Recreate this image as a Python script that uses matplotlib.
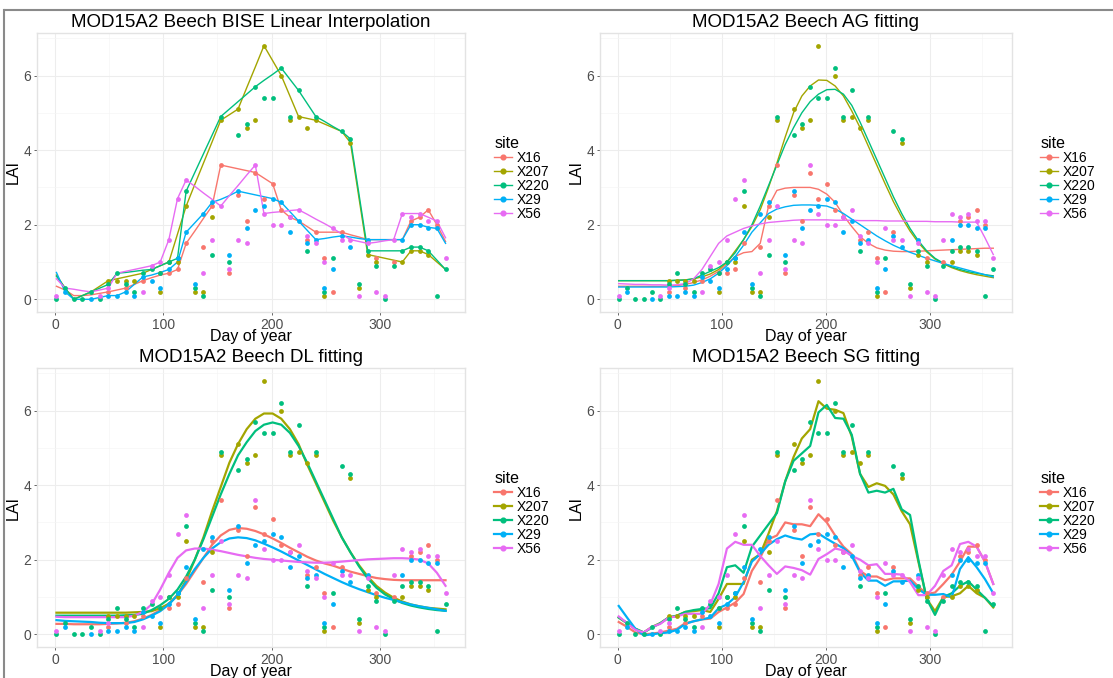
import numpy as np
import matplotlib
matplotlib.use("Agg")
import matplotlib.pyplot as plt
from matplotlib.lines import Line2D

plt.rcParams["font.family"] = ["Liberation Sans", "DejaVu Sans"]

nan = np.nan

DAYS = [1, 9, 17, 25, 33, 41, 49, 57, 65, 73, 81, 89, 97, 105, 113, 121,
        129, 137, 145, 153, 161, 169, 177, 185, 193, 201, 209, 217, 225, 233,
        241, 249, 257, 265, 273, 281, 289, 297, 305, 313, 321, 329, 337, 345,
        353, 361]

SITES = ["X16", "X207", "X220", "X29", "X56"]
SITE_COLORS = ["#F8766D", "#A3A500", "#00BF7D", "#00B0F6", "#E76BF3"]

# raw MOD15A2 LAI observations (shared by all panels)
RAW_LAI = {
    "X16": [nan, nan, nan, nan, nan, nan, 0.2, nan, 0.3, nan, 0.5, nan, 0.7, 0.7, 0.8, 1.5,
            nan, 1.4, 2.5, 3.6, 0.7, 2.8, 2.1, 3.4, 2.7, 3.1, 2.4, 2.2, nan, 1.6,
            1.8, 1.1, 0.2, 1.8, nan, nan, nan, 1.1, nan, 1.0, nan, 2.1, 2.2, 2.4, 2.0, nan],
    "X207": [nan, nan, nan, nan, nan, nan, 0.5, 0.5, 0.5, 0.5, nan, nan, 0.2, 1.0, 1.0, 2.5,
             0.2, 0.2, 2.2, 4.8, nan, 5.1, 4.6, 4.8, 6.8, nan, 6.0, 4.8, 4.9, 4.6,
             4.8, 0.1, nan, nan, 4.2, 0.3, 1.2, 1.0, nan, nan, 1.0, 1.3, 1.3, 1.2, nan, nan],
    "X220": [0.0, 0.3, 0.0, 0.0, 0.2, 0.0, 0.4, 0.7, 0.4, 0.2, 0.7, 0.8, 0.7, 1.0, 1.1, 2.9,
             0.3, 0.1, 1.2, 4.9, 1.0, 4.4, 4.7, 5.7, 5.4, 5.4, 6.2, 4.9, 5.6, 1.3,
             4.9, 0.2, 1.1, 4.5, 4.3, 0.4, 1.3, 0.9, 0.0, 0.9, 1.3, 1.4, 1.4, 1.3, 0.1, 0.8],
    "X29": [nan, 0.2, nan, nan, 0.0, nan, 0.1, 0.1, 0.2, 0.1, 0.6, 0.5, 0.3, 0.8, 1.1, 1.8,
            0.4, 2.3, 2.6, nan, 1.2, 2.9, 1.9, 2.4, 2.5, 2.7, 2.6, 1.8, 2.1, 1.5,
            1.6, 0.3, 0.8, 1.7, 1.4, nan, 1.6, nan, nan, nan, 1.6, 2.0, 2.0, 1.9, 1.9, nan],
    "X56": [0.1, nan, nan, nan, nan, 0.1, 0.3, nan, nan, nan, 0.2, 0.9, 1.0, 1.6, 2.7, 3.2,
            nan, 0.7, 1.6, 2.5, 0.8, 1.6, 1.5, 3.6, 2.3, 2.0, 2.0, 2.2, 2.4, 1.7,
            1.5, 1.0, 1.9, 1.6, 1.6, 0.1, 1.5, 0.2, 0.1, 1.6, 2.3, 2.2, 2.3, 2.1, 2.1, 1.1],
}

BISE_LAI = {
    "X16": [0.35, 0.25, 0.1, 0.1, 0.12, 0.16, 0.2, 0.25, 0.3, 0.4, 0.5, 0.58, 0.65, 0.7, 0.8, 1.5,
            1.83, 2.17, 2.5, 3.6, 3.55, 3.5, 3.45, 3.4, 3.25, 3.1, 2.4, 2.2, 2.1, 1.95,
            1.8, 1.8, 1.8, 1.8, 1.73, 1.67, 1.6, 1.6, 1.6, 1.6, 1.6, 2.1, 2.2, 2.4, 2.0, 1.55],
    "X207": [0.65, 0.3, 0.0, 0.1, 0.2, 0.35, 0.5, 0.55, 0.6, 0.65, 0.7, 0.8, 0.9, 1.0, 1.75, 2.5,
             3.08, 3.65, 4.22, 4.8, 4.95, 5.1, 5.67, 6.23, 6.8, 6.4, 6.0, 5.45, 4.9, 4.85,
             4.8, 4.7, 4.6, 4.5, 4.2, 2.7, 1.2, 1.15, 1.1, 1.05, 1.0, 1.3, 1.3, 1.2, 1.0, 0.8],
    "X220": [0.62, 0.3, 0.0, 0.1, 0.2, 0.3, 0.4, 0.7, 0.72, 0.75, 0.78, 0.8, 0.9, 1.0, 1.1, 2.9,
             3.4, 3.9, 4.4, 4.9, 5.1, 5.3, 5.5, 5.7, 5.87, 6.03, 6.2, 5.9, 5.6, 5.25,
             4.9, 4.77, 4.63, 4.5, 4.3, 2.8, 1.3, 1.3, 1.3, 1.3, 1.3, 1.4, 1.4, 1.3, 1.05, 0.8],
    "X29": [0.72, 0.2, 0.0, 0.0, 0.0, 0.05, 0.1, 0.1, 0.2, 0.4, 0.6, 0.65, 0.72, 0.8, 1.0, 1.8,
            2.05, 2.3, 2.6, 2.68, 2.78, 2.9, 2.85, 2.8, 2.75, 2.7, 2.6, 2.35, 2.1, 1.85,
            1.6, 1.63, 1.67, 1.7, 1.67, 1.63, 1.6, 1.6, 1.6, 1.6, 1.6, 2.0, 2.0, 1.93, 1.9, 1.5],
    "X56": [0.55, 0.3, 0.27, 0.23, 0.2, 0.25, 0.3, 0.7, 0.75, 0.8, 0.85, 0.9, 1.0, 1.6, 2.7, 3.2,
            3.03, 2.85, 2.68, 2.5, 2.78, 3.05, 3.33, 3.6, 2.3, 2.33, 2.35, 2.38, 2.4, 2.28,
            2.15, 2.03, 1.9, 1.75, 1.6, 1.55, 1.5, 1.53, 1.57, 1.6, 2.3, 2.3, 2.3, 2.2, 2.1, 1.65],
}

AG_LAI = {
    "X16": [0.35, 0.35, 0.35, 0.35, 0.35, 0.35, 0.36, 0.37, 0.4, 0.45, 0.52, 0.62, 0.75, 0.95, 1.15, 1.25,
            1.28, 1.5, 2.5, 2.92, 2.98, 3.0, 3.0, 3.0, 2.95, 2.82, 2.6, 2.25, 1.95, 1.68,
            1.5, 1.38, 1.32, 1.29, 1.28, 1.28, 1.29, 1.3, 1.31, 1.32, 1.33, 1.34, 1.35, 1.36, 1.37, 1.37],
    "X207": [0.5, 0.5, 0.5, 0.5, 0.5, 0.5, 0.5, 0.51, 0.52, 0.55, 0.6, 0.68, 0.8, 1.0, 1.3, 1.6,
             1.95, 2.4, 3.0, 3.65, 4.35, 5.0, 5.45, 5.72, 5.88, 5.87, 5.72, 5.45, 5.05, 4.6,
             4.1, 3.6, 3.1, 2.62, 2.2, 1.83, 1.52, 1.27, 1.08, 0.95, 0.85, 0.77, 0.71, 0.66, 0.62, 0.58],
    "X220": [0.5, 0.5, 0.5, 0.5, 0.5, 0.5, 0.5, 0.51, 0.52, 0.55, 0.65, 0.75, 0.85, 1.0, 1.25, 1.6,
             2.0, 2.5, 3.05, 3.6, 4.15, 4.6, 5.0, 5.3, 5.5, 5.62, 5.63, 5.5, 5.2, 4.75,
             4.25, 3.75, 3.25, 2.75, 2.3, 1.9, 1.57, 1.3, 1.1, 0.97, 0.87, 0.8, 0.74, 0.7, 0.66, 0.63],
    "X29": [0.33, 0.33, 0.33, 0.33, 0.33, 0.33, 0.33, 0.34, 0.35, 0.38, 0.45, 0.55, 0.7, 0.9, 1.15, 1.45,
            1.8, 2.05, 2.3, 2.42, 2.48, 2.52, 2.53, 2.53, 2.52, 2.5, 2.42, 2.3, 2.15, 2.0,
            1.85, 1.7, 1.57, 1.45, 1.35, 1.26, 1.18, 1.1, 1.03, 0.96, 0.9, 0.84, 0.78, 0.72, 0.66, 0.6],
    "X56": [0.42, 0.41, 0.4, 0.4, 0.39, 0.39, 0.38, 0.39, 0.42, 0.55, 0.8, 1.15, 1.5, 1.7, 1.8, 1.9,
            1.97, 2.02, 2.06, 2.08, 2.1, 2.12, 2.13, 2.13, 2.13, 2.13, 2.12, 2.12, 2.12, 2.11,
            2.11, 2.11, 2.1, 2.1, 2.1, 2.09, 2.09, 2.09, 2.08, 2.08, 2.08, 2.07, 2.07, 2.07, 1.65, 1.2],
}

DL_LAI = {
    "X16": [0.28, 0.28, 0.27, 0.27, 0.27, 0.27, 0.28, 0.29, 0.31, 0.35, 0.42, 0.52, 0.65, 0.82, 1.05, 1.35,
            1.7, 2.05, 2.4, 2.65, 2.8, 2.85, 2.83, 2.77, 2.68, 2.57, 2.45, 2.32, 2.2, 2.08,
            1.98, 1.9, 1.84, 1.76, 1.68, 1.62, 1.56, 1.51, 1.48, 1.46, 1.45, 1.45, 1.45, 1.45, 1.45, 1.45],
    "X207": [0.58, 0.58, 0.58, 0.58, 0.58, 0.58, 0.58, 0.58, 0.58, 0.59, 0.6, 0.62, 0.7, 0.82, 1.05, 1.45,
             2.0, 2.6, 3.3, 3.95, 4.6, 5.1, 5.5, 5.78, 5.92, 5.92, 5.78, 5.5, 5.1, 4.55,
             4.05, 3.55, 3.05, 2.6, 2.2, 1.85, 1.55, 1.3, 1.12, 0.98, 0.88, 0.8, 0.75, 0.71, 0.69, 0.67],
    "X220": [0.5, 0.5, 0.5, 0.5, 0.5, 0.5, 0.5, 0.5, 0.51, 0.52, 0.55, 0.65, 0.78, 0.95, 1.2, 1.55,
             2.0, 2.55, 3.15, 3.75, 4.3, 4.8, 5.15, 5.45, 5.62, 5.68, 5.62, 5.4, 5.05, 4.6,
             4.1, 3.6, 3.1, 2.6, 2.2, 1.82, 1.5, 1.25, 1.07, 0.94, 0.84, 0.77, 0.72, 0.68, 0.65, 0.63],
    "X29": [0.38, 0.36, 0.35, 0.34, 0.33, 0.31, 0.3, 0.3, 0.3, 0.33, 0.4, 0.5, 0.62, 0.8, 1.05, 1.4,
            1.75, 2.05, 2.3, 2.47, 2.57, 2.6, 2.58, 2.52, 2.43, 2.33, 2.22, 2.1, 1.98, 1.86,
            1.74, 1.62, 1.51, 1.4, 1.3, 1.21, 1.13, 1.05, 0.98, 0.92, 0.86, 0.8, 0.75, 0.71, 0.67, 0.63],
    "X56": [0.47, 0.46, 0.46, 0.46, 0.46, 0.46, 0.46, 0.46, 0.46, 0.5, 0.6, 0.8, 1.2, 1.65, 2.05, 2.25,
            2.3, 2.3, 2.27, 2.23, 2.18, 2.13, 2.09, 2.05, 2.02, 2.0, 1.98, 1.96, 1.94, 1.93,
            1.92, 1.92, 1.93, 1.95, 1.97, 1.99, 2.01, 2.02, 2.03, 2.04, 2.04, 2.03, 2.0, 1.9, 1.65, 1.3],
}

SG_LAI = {
    "X16": [0.33, 0.2, 0.05, 0.0, 0.02, 0.05, 0.1, 0.15, 0.3, 0.35, 0.4, 0.42, 0.6, 0.72, 0.85, 1.08,
            1.7, 2.05, 2.55, 2.65, 3.0, 2.95, 2.95, 2.9, 3.22, 3.0, 2.65, 2.35, 2.15, 1.7,
            1.55, 1.55, 1.45, 1.5, 1.5, 1.5, 1.28, 1.08, 1.12, 1.35, 1.6, 1.95, 2.35, 2.35, 1.95, 1.35],
    "X207": [0.45, 0.3, 0.15, 0.05, 0.2, 0.3, 0.45, 0.5, 0.6, 0.62, 0.65, 0.6, 0.95, 1.35, 1.35, 1.35,
             2.0, 2.15, 2.7, 3.3, 4.1, 4.75, 5.25, 5.5, 6.25, 6.05, 6.02, 5.93, 5.3, 4.3,
             3.95, 4.05, 3.98, 3.75, 3.3, 2.95, 1.95, 0.95, 0.62, 1.0, 1.02, 1.1, 1.3, 1.1, 0.98, 0.72],
    "X220": [0.45, 0.3, 0.15, 0.05, 0.18, 0.3, 0.45, 0.5, 0.6, 0.65, 0.68, 0.7, 1.1, 1.8, 1.85, 1.65,
             2.35, 2.65, 2.95, 3.25, 4.1, 4.65, 4.85, 5.05, 5.95, 6.15, 5.8, 5.78, 5.35, 4.3,
             3.8, 3.85, 3.8, 3.9, 3.35, 3.2, 2.0, 0.95, 0.52, 1.0, 1.1, 1.3, 1.42, 1.2, 0.98, 0.75],
    "X29": [0.76, 0.45, 0.15, -0.03, 0.0, 0.03, 0.05, 0.12, 0.28, 0.35, 0.4, 0.45, 0.7, 0.8, 1.0, 1.4,
            1.95, 2.15, 2.4, 2.55, 2.65, 2.58, 2.54, 2.68, 2.7, 2.56, 2.43, 2.31, 2.1, 1.66,
            1.44, 1.44, 1.3, 1.42, 1.42, 1.44, 1.21, 1.06, 1.06, 1.08, 0.99, 1.75, 2.07, 1.8, 1.48, 1.1],
    "X56": [0.48, 0.3, 0.12, 0.05, 0.2, 0.28, 0.45, 0.48, 0.55, 0.55, 0.55, 0.8, 1.35, 2.3, 2.48, 2.4,
            2.4, 2.1, 1.85, 1.62, 1.82, 1.78, 1.72, 1.6, 2.02, 2.15, 2.3, 2.25, 2.1, 2.0,
            1.85, 1.88, 1.62, 1.62, 1.6, 1.4, 1.05, 1.05, 1.3, 1.7, 1.85, 2.42, 2.48, 2.35, 1.95, 1.35],
}

FIG_W, FIG_H = 1113, 678


def px_box(left, top, right, bottom):
    return [left / FIG_W, 1 - bottom / FIG_H, (right - left) / FIG_W, (bottom - top) / FIG_H]


def draw_panel(fig, box, title, fitted, line_width):
    ax = fig.add_axes(px_box(*box))
    ax.set_facecolor("white")

    days = np.array(DAYS, dtype=float)
    for site, color in zip(SITES, SITE_COLORS):
        raw = np.array(RAW_LAI[site], dtype=float)
        ax.scatter(days, raw, s=12, color=color, linewidths=0, zorder=3)
    for site, color in zip(SITES, SITE_COLORS):
        ax.plot(days, fitted[site], color=color, linewidth=line_width, zorder=2)

    ax.set_xlim(-17, 379)
    ax.set_ylim(-0.34, 7.14)
    ax.set_xticks([0, 100, 200, 300])
    ax.set_yticks([0, 2, 4, 6])
    ax.set_xticks([50, 150, 250, 350], minor=True)
    ax.set_yticks([1, 3, 5, 7], minor=True)
    ax.grid(True, which="major", color="#EDEDED", linewidth=0.8, zorder=0)
    ax.grid(True, which="minor", color="#F5F5F5", linewidth=0.5, zorder=0)
    ax.set_axisbelow(True)
    for spine in ax.spines.values():
        spine.set_color("#E3E3E3")
        spine.set_linewidth(1.0)
    ax.tick_params(which="major", length=2.5, width=0.6, color="#4D4D4D",
                   labelcolor="#4D4D4D", labelsize=10, pad=1.5)
    ax.tick_params(which="minor", length=0)

    ax.set_title(title, fontsize=13.5, pad=4)
    ax.set_xlabel("Day of year", fontsize=11.5, labelpad=-1.5)
    ax.set_ylabel("LAI", fontsize=11.5, labelpad=2)

    handles = [
        Line2D([0], [0], color=c, linewidth=line_width, marker="o", markersize=3.4)
        for c in SITE_COLORS
    ]
    ax.legend(handles, SITES, title="site", loc="center left",
              bbox_to_anchor=(1.055, 0.48), frameon=False, fontsize=10,
              title_fontsize=11.5, handlelength=1.3, handletextpad=0.3,
              labelspacing=0.0, alignment="left", borderaxespad=0)
    return ax


fig = plt.figure(figsize=(FIG_W / 100, FIG_H / 100), dpi=100)
fig.patch.set_facecolor("white")

draw_panel(fig, (37, 33, 465, 312), "MOD15A2 Beech BISE Linear Interpolation", BISE_LAI, 1.0)
draw_panel(fig, (600, 33, 1012, 312), "MOD15A2 Beech AG fitting", AG_LAI, 1.0)
draw_panel(fig, (37, 368, 465, 647), "MOD15A2 Beech DL fitting", DL_LAI, 1.6)
draw_panel(fig, (600, 368, 1012, 647), "MOD15A2 Beech SG fitting", SG_LAI, 1.6)

# screenshot frame lines
fig.add_artist(Line2D([5 / FIG_W, 1], [1 - 10 / FIG_H, 1 - 10 / FIG_H],
                      transform=fig.transFigure, color="#8A8A8A", linewidth=1.5))
fig.add_artist(Line2D([4 / FIG_W, 4 / FIG_W], [0, 1 - 10 / FIG_H],
                      transform=fig.transFigure, color="#8A8A8A", linewidth=1.5))

fig.savefig("out.png", dpi=100)
